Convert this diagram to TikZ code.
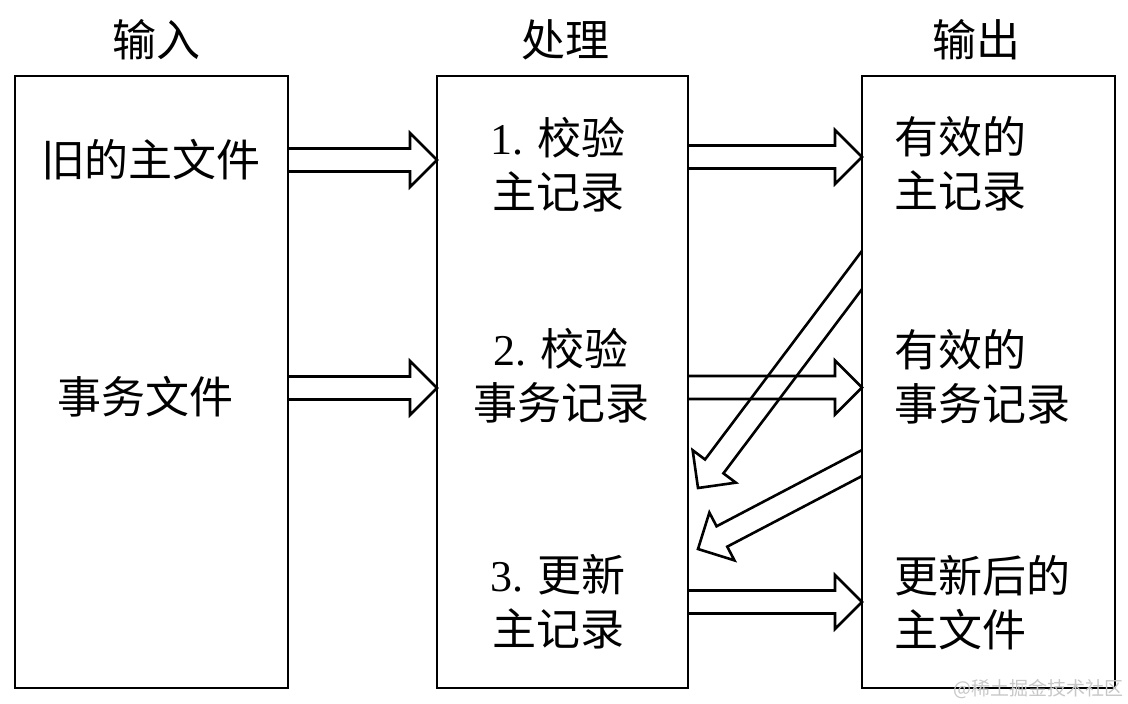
\documentclass[tikz,border=0pt]{standalone}
\usepackage{fontspec}
\setmainfont{Liberation Serif}
\newfontfamily\cjk{Noto Sans CJK SC}
\newfontfamily\lat{Liberation Serif}
\usetikzlibrary{calc}
\newcommand\blockarrow[2]{%
  \path ($(#2)!27pt!(#1)$) coordinate (ba-hb)
        ($(ba-hb)!11.5pt!90:(#2)$) coordinate (ba-a)
        ($(ba-hb)!11.5pt!-90:(#2)$) coordinate (ba-b)
        ($(ba-hb)!27pt!90:(#2)$) coordinate (ba-A)
        ($(ba-hb)!27pt!-90:(#2)$) coordinate (ba-B)
        ($(#1)!11.5pt!90:(#2)$) coordinate (ba-sa)
        ($(#1)!11.5pt!-90:(#2)$) coordinate (ba-sb)
        ($(#1)+(0,10)$) coordinate (ba-v);
  \draw[blockarrow] (intersection of ba-a--ba-sa and #1--ba-v) -- (ba-a) -- (ba-A)
     -- (#2) -- (ba-B) -- (ba-b) -- (intersection of ba-b--ba-sb and #1--ba-v);
}
\begin{document}
\begin{tikzpicture}[x=1pt,y=-1pt,
  box/.style={draw,line width=2.2pt,inner sep=0pt,outer sep=0pt,minimum height=612pt},
  lbl/.style={font=\cjk\fontsize{44}{54}\selectfont,inner sep=0pt,align=center},
  blockarrow/.style={draw,line width=2.6pt,line join=miter}]
\useasboundingbox (0,0) rectangle (1128,704);
% headings
\node[lbl] (h1) at (156,40) {输入};
\node[lbl] (h2) at (565,40) {处理};
\node[lbl] (h3) at (976,40) {输出};
% boxes
\node[box,minimum width=273pt] (b1) at (151.5,382) {};
\node[box,minimum width=251pt] (b2) at (562.5,382) {};
\node[box,minimum width=253pt] (b3) at (988.5,382) {};
% input texts
\node[lbl] (i1) at (151,160) {旧的主文件};
\node[lbl] (i2) at (145,397) {事务文件};
% process texts
\node[lbl] (p1) at (558,164.5) {{\lat 1. }校验\\主记录};
\node[lbl] (p2) at (561,375.5) {{\lat 2. }校验\\事务记录};
\node[lbl] (p3) at (558,601.5) {{\lat 3. }更新\\主记录};
% output texts
\node[lbl,align=left,anchor=west] (o1) at (894,164) {有效的\\主记录};
\node[lbl,align=left,anchor=west] (o2) at (894,377) {有效的\\事务记录};
\node[lbl,align=left,anchor=west] (o3) at (894,603) {更新后的\\主文件};
% arrow end points
\coordinate (a1s) at (b1.east |- 0,160);
\coordinate (a1t) at (b2.west |- 0,160);
\coordinate (a2s) at (b1.east |- 0,388);
\coordinate (a2t) at (b2.west |- 0,388);
\coordinate (c1s) at (b2.east |- 0,157);
\coordinate (c1t) at (b3.west |- 0,157);
\coordinate (c2s) at (b2.east |- 0,387.5);
\coordinate (c2t) at (b3.west |- 0,387.5);
\coordinate (c3s) at (b2.east |- 0,602);
\coordinate (c3t) at (b3.west |- 0,602);
\coordinate (f1s) at (b3.west |- 0,270);
\coordinate (f1t) at (698,488);
\coordinate (f2s) at (b3.west |- 0,463);
\coordinate (f2t) at (698,549);
\blockarrow{a1s}{a1t}
\blockarrow{a2s}{a2t}
\blockarrow{c1s}{c1t}
\blockarrow{c2s}{c2t}
\blockarrow{c3s}{c3t}
\blockarrow{f1s}{f1t}
\blockarrow{f2s}{f2t}
% watermark
\node[font=\cjk\fontsize{19}{19}\selectfont,text=black!22,anchor=east,inner sep=0pt] (wm) at (1124,689) {@稀土掘金技术社区};
\end{tikzpicture}
\end{document}
